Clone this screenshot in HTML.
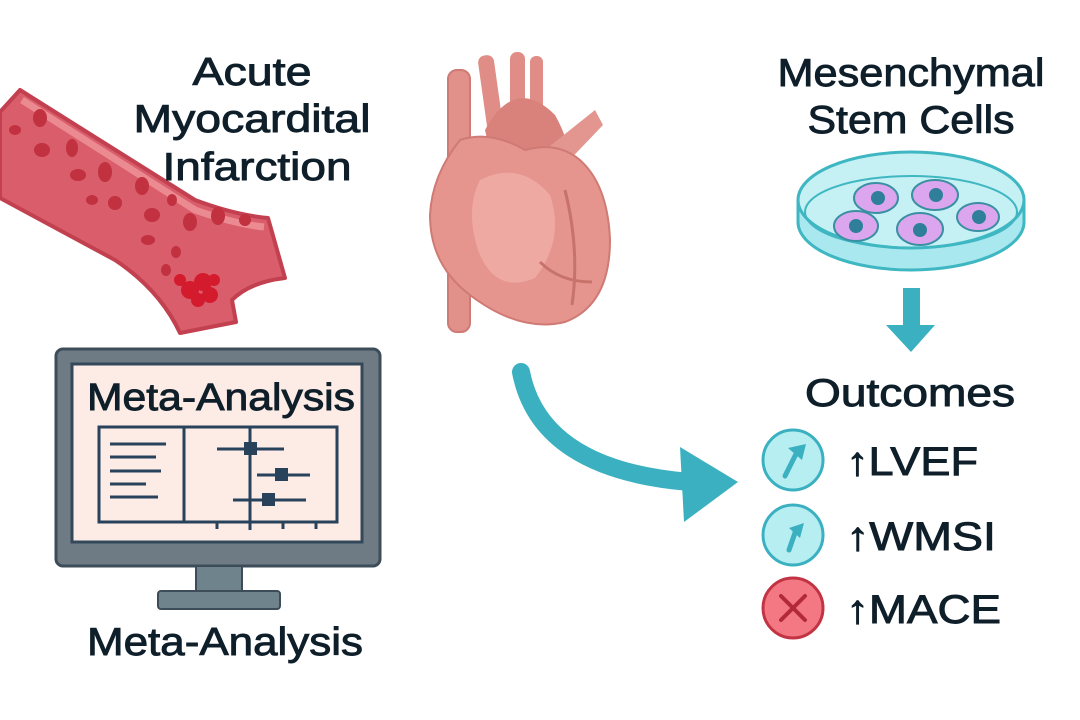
<!DOCTYPE html>
<html><head><meta charset="utf-8"><style>
html,body{margin:0;padding:0;background:#fff;}
svg{display:block;}
text{font-family:"Liberation Sans",sans-serif;fill:#0f1f2a;stroke:#0f1f2a;stroke-width:0.9;}
</style></head><body>
<svg width="1080" height="720" viewBox="0 0 1080 720" xmlns="http://www.w3.org/2000/svg">
<rect width="1080" height="720" fill="#fff"/>
<!-- vessel -->
<path d="M20,90 L195,200 Q235,215 268,218 L285,278 Q250,282 232,300 L236,322 L180,333 Q160,290 115,260 L0,198 L0,112 Z" fill="#d95d6a" stroke="#c2404f" stroke-width="4" stroke-linejoin="round"/>
<path d="M22,100 L195,210 Q235,224 264,227" fill="none" stroke="#ec8a92" stroke-width="7"/>
<g fill="#c1313f">
<ellipse cx="40" cy="118" rx="7" ry="9"/><ellipse cx="15" cy="130" rx="6" ry="5"/><ellipse cx="42" cy="150" rx="8" ry="7"/>
<ellipse cx="72" cy="148" rx="6" ry="9"/><ellipse cx="78" cy="175" rx="8" ry="6"/><ellipse cx="105" cy="172" rx="7" ry="10"/>
<ellipse cx="92" cy="200" rx="6" ry="5"/><ellipse cx="115" cy="203" rx="7" ry="7"/><ellipse cx="142" cy="186" rx="7" ry="9"/>
<ellipse cx="152" cy="215" rx="8" ry="7"/><ellipse cx="172" cy="200" rx="5" ry="6"/><ellipse cx="190" cy="222" rx="7" ry="9"/>
<ellipse cx="218" cy="216" rx="7" ry="9"/><ellipse cx="245" cy="220" rx="6" ry="6"/><ellipse cx="148" cy="240" rx="7" ry="5"/>
<ellipse cx="176" cy="252" rx="5" ry="6"/><ellipse cx="166" cy="270" rx="5" ry="6"/>
</g>
<g fill="#d41b2e"><circle cx="190" cy="290" r="9"/><circle cx="203" cy="282" r="9"/><circle cx="210" cy="295" r="8"/><circle cx="180" cy="280" r="6"/><circle cx="198" cy="300" r="7"/><circle cx="214" cy="280" r="6"/></g>
<!-- title left -->
<g font-size="39" text-anchor="middle">
<text x="252" y="85" textLength="119" lengthAdjust="spacingAndGlyphs">Acute</text>
<text x="252" y="132" textLength="237" lengthAdjust="spacingAndGlyphs">Myocardital</text>
<text x="257" y="180" textLength="189" lengthAdjust="spacingAndGlyphs">Infarction</text>
</g>
<!-- heart -->
<g>
<rect x="448" y="70" width="22" height="262" rx="9" fill="#e2908a" stroke="#cf7a74" stroke-width="2"/>
<rect x="482" y="55" width="16" height="80" rx="7" fill="#df8d86" transform="rotate(-8 490 90)"/>
<rect x="510" y="52" width="15" height="80" rx="7" fill="#df8d86"/>
<rect x="530" y="56" width="13" height="70" rx="6" fill="#df8d86"/>
<path d="M485,130 Q515,75 555,115 Q575,150 565,175 L495,175 Z" fill="#d9827b"/>
<path d="M545,150 L595,110 L603,125 L560,170 Z" fill="#e2968f"/>
<path d="M460,140 Q432,175 430,215 Q430,265 470,295 Q520,333 565,322 Q610,305 610,240 Q608,190 585,165 Q562,140 525,150 Q490,130 460,140 Z" fill="#e5958d" stroke="#cf7a74" stroke-width="2"/>
<path d="M480,180 Q520,160 550,195 Q565,240 535,278 Q495,295 478,250 Q465,210 480,180Z" fill="#eeaaa2"/>
<path d="M565,190 Q580,250 572,305 M540,262 Q560,282 592,282" fill="none" stroke="#c8726c" stroke-width="3"/>
</g>
<!-- right title -->
<g font-size="39" text-anchor="middle">
<text x="911" y="86" textLength="267" lengthAdjust="spacingAndGlyphs">Mesenchymal</text>
<text x="911" y="133" textLength="207" lengthAdjust="spacingAndGlyphs">Stem Cells</text>
</g>
<!-- petri -->
<path d="M798,200 L798,222 A113,48 0 0 0 1024,222 L1024,200" fill="#a8e8ee" stroke="#3fb7c2" stroke-width="3"/>
<ellipse cx="911" cy="200" rx="113" ry="48" fill="#c6f1f4" stroke="#3fb7c2" stroke-width="3"/>
<ellipse cx="911" cy="212" rx="106" ry="36" fill="none" stroke="#3fb7c2" stroke-width="2"/>
<g fill="#dca6ee" stroke="#3a8fa3" stroke-width="2">
<ellipse cx="876" cy="198" rx="22" ry="15"/><ellipse cx="935" cy="195" rx="23" ry="15"/>
<ellipse cx="856" cy="226" rx="22" ry="15"/><ellipse cx="920" cy="229" rx="23" ry="16"/><ellipse cx="978" cy="217" rx="21" ry="14"/>
</g>
<g fill="#2f7f9b"><circle cx="878" cy="198" r="7"/><circle cx="936" cy="195" r="7"/><circle cx="856" cy="226" r="7"/><circle cx="920" cy="230" r="7"/><circle cx="979" cy="217" r="7"/></g>
<!-- down arrow -->
<rect x="903" y="288" width="17" height="38" fill="#3bb0c0"/>
<polygon points="886,325 935,325 911,352" fill="#3bb0c0"/>
<text x="910" y="406" font-size="39" text-anchor="middle" textLength="210" lengthAdjust="spacingAndGlyphs">Outcomes</text>
<!-- outcomes -->
<g>
<circle cx="793" cy="460" r="30" fill="#b7eef2" stroke="#3bb0c0" stroke-width="3"/>
<path d="M785,476 L797,452" stroke="#3bb0c0" stroke-width="5" stroke-linecap="round"/>
<polygon points="788,448 806,444 802,460" fill="#3bb0c0"/>
<circle cx="793" cy="535" r="30" fill="#b7eef2" stroke="#3bb0c0" stroke-width="3"/>
<path d="M789,550 L796,530" stroke="#3bb0c0" stroke-width="5" stroke-linecap="round"/>
<polygon points="789,528 804,523 800,538" fill="#3bb0c0"/>
<circle cx="793" cy="608" r="30" fill="#f47884" stroke="#c23444" stroke-width="3"/>
<path d="M781,596 L805,620 M805,596 L781,620" stroke="#b22a3a" stroke-width="4" stroke-linecap="round"/>
</g>
<g font-size="40">
<text x="846" y="475" textLength="132" lengthAdjust="spacingAndGlyphs">↑LVEF</text>
<text x="846" y="550" textLength="150" lengthAdjust="spacingAndGlyphs">↑WMSI</text>
<text x="846" y="623" textLength="155" lengthAdjust="spacingAndGlyphs">↑MACE</text>
</g>
<!-- curved arrow -->
<path d="M521,372 Q540,470 690,482" fill="none" stroke="#3bb0c0" stroke-width="18" stroke-linecap="round"/>
<polygon points="680,447 738,482 684,522" fill="#3bb0c0"/>
<!-- monitor -->
<rect x="56" y="349" width="324" height="217" rx="7" fill="#6e7b84" stroke="#3c4d59" stroke-width="3"/>
<rect x="72" y="364" width="290" height="178" fill="#fdebe6" stroke="#33495a" stroke-width="3"/>
<rect x="196" y="566" width="46" height="25" fill="#6f838c" stroke="#3c4d59" stroke-width="2"/>
<rect x="158" y="591" width="122" height="18" rx="3" fill="#6f838c" stroke="#3c4d59" stroke-width="2"/>
<text x="221" y="410" font-size="38" text-anchor="middle" textLength="268" lengthAdjust="spacingAndGlyphs">Meta-Analysis</text>
<g stroke="#27425a" stroke-width="3" fill="none">
<rect x="99" y="427" width="238" height="95"/>
<line x1="184" y1="427" x2="184" y2="522"/>
<line x1="250" y1="427" x2="250" y2="530"/>
<line x1="110" y1="444" x2="166" y2="444"/><line x1="110" y1="457" x2="156" y2="457"/><line x1="110" y1="471" x2="161" y2="471"/><line x1="110" y1="484" x2="146" y2="484"/><line x1="110" y1="497" x2="158" y2="497"/>
<line x1="217" y1="449" x2="284" y2="449"/><line x1="257" y1="475" x2="310" y2="475"/><line x1="233" y1="500" x2="306" y2="500"/>
<line x1="217" y1="522" x2="217" y2="529"/><line x1="283" y1="522" x2="283" y2="529"/><line x1="316" y1="522" x2="316" y2="529"/>
</g>
<g fill="#27425a"><rect x="244" y="442" width="13" height="13"/><rect x="275" y="468" width="13" height="13"/><rect x="262" y="493" width="13" height="13"/></g>
<text x="225" y="655" font-size="39" text-anchor="middle" textLength="276" lengthAdjust="spacingAndGlyphs">Meta-Analysis</text>
</svg>
</body></html>
